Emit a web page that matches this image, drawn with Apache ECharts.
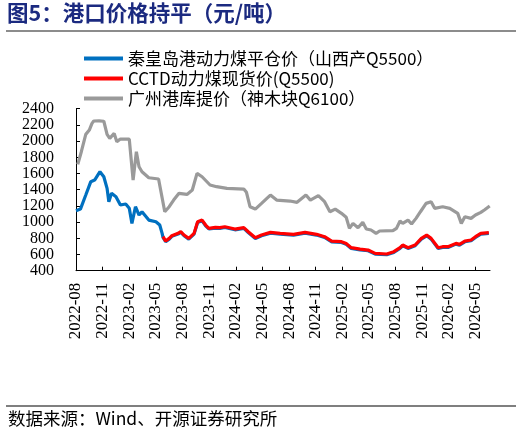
<!DOCTYPE html>
<html><head><meta charset="utf-8">
<script src="https://cdn.jsdelivr.net/npm/echarts@6/dist/echarts.min.js"></script>
<style>html,body{margin:0;padding:0;background:#fff;}#c{width:522px;height:436px;}</style>
</head><body><div id="c"></div>
<script>
const titleText = '图5：港口价格持平（元/吨）';
const sourceText = '数据来源：Wind、开源证券研究所';
const seriesNames = ['秦皇岛港动力煤平仓价（山西产Q5500）', 'CCTD动力煤现货价(Q5500)', '广州港库提价（神木块Q6100）'];
const yTicks = [400, 2400, 200];
const xStartMonth = '2022-08';
const xEndDate = '2026-06-20';

const blueDates = ['2022-08-01','2022-08-16','2022-09-04','2022-09-21','2022-10-04','2022-10-22','2022-11-05','2022-11-16','2022-11-22','2022-12-01','2022-12-16','2023-01-01','2023-01-19','2023-02-01','2023-02-10','2023-02-22','2023-03-04','2023-03-14','2023-04-07','2023-05-01','2023-05-14','2023-05-22',
'2023-05-25','2023-06-04','2023-06-16','2023-06-25','2023-07-16','2023-07-25','2023-08-06','2023-08-22','2023-09-10','2023-09-22','2023-10-07','2023-10-19','2023-10-30','2023-11-22','2023-12-07','2023-12-24','2024-01-28','2024-02-28','2024-03-13','2024-04-07','2024-04-28','2024-05-28','2024-07-01','2024-08-16','2024-09-25','2024-11-04','2024-12-01','2024-12-25','2025-01-28','2025-02-14','2025-03-01','2025-04-01','2025-04-28','2025-05-22','2025-07-01','2025-07-25','2025-08-16','2025-08-25','2025-09-13','2025-10-07','2025-10-28','2025-11-16','2025-12-01','2025-12-25','2026-01-10','2026-01-28','2026-02-25','2026-03-07','2026-03-25','2026-04-16','2026-05-01','2026-05-19','2026-06-16'];
const blueValues = [1140,1161,1334,1499,1519,1622,1560,1416,1252,1355,1313,1211,1223,1170,984,1190,1087,1128,1025,1005,964,861,
812,758,790,824,852,872,832,790,852,995,1016,955,915,926,922,934,905,922,872,798,831,864,852,840,864,840,811,757,749,727,675,658,646,605,597,626,675,708,675,708,790,831,790,675,687,687,728,716,757,770,811,852,860];

const redDates = ['2023-05-25','2023-06-04','2023-06-16','2023-06-25','2023-07-16','2023-07-25','2023-08-06','2023-08-22','2023-09-10','2023-09-22','2023-10-07','2023-10-19','2023-10-30','2023-11-22','2023-12-07','2023-12-24','2024-01-28','2024-02-28','2024-03-13','2024-04-07','2024-04-28','2024-05-28','2024-07-01','2024-08-16','2024-09-25','2024-11-04','2024-12-01','2024-12-25','2025-01-28','2025-02-14','2025-03-01','2025-04-01','2025-04-28','2025-05-22','2025-07-01','2025-07-25','2025-08-16','2025-08-25','2025-09-13','2025-10-07','2025-10-28','2025-11-16','2025-12-01','2025-12-25','2026-01-10','2026-01-28','2026-02-25','2026-03-07','2026-03-25','2026-04-16','2026-05-01','2026-05-19','2026-06-16'];
const redValues = [820,766,799,832,861,881,840,799,861,1005,1025,964,923,935,931,943,914,931,881,807,840,873,861,849,873,849,820,766,758,735,684,667,655,614,606,635,684,717,684,717,799,840,799,684,696,696,737,725,766,779,820,861,869];

const grayDates = ['2022-08-07','2022-08-19','2022-09-04','2022-09-16','2022-09-25','2022-10-01','2022-10-19','2022-11-05','2022-11-16','2022-11-25','2022-12-10','2022-12-19','2023-01-01','2023-02-01','2023-02-14','2023-02-25','2023-03-04','2023-03-14','2023-04-07','2023-05-10','2023-06-01','2023-06-16','2023-07-01','2023-07-19','2023-08-16','2023-09-04','2023-09-20','2023-10-07','2023-11-04','2023-11-26','2024-01-01','2024-02-28','2024-03-07','2024-03-19','2024-04-07','2024-04-28','2024-05-16','2024-05-28','2024-06-19','2024-08-04','2024-08-28','2024-09-28','2024-10-13','2024-11-10','2024-12-01','2024-12-19','2025-01-07','2025-01-28','2025-02-14','2025-02-25','2025-03-07','2025-03-24','2025-04-10','2025-04-22','2025-05-08','2025-05-25','2025-06-07','2025-07-22','2025-08-04','2025-08-16','2025-08-25','2025-09-13','2025-09-25','2025-10-10','2025-10-25','2025-11-14','2025-12-01','2025-12-13','2026-01-10','2026-02-04','2026-03-01','2026-03-13','2026-03-25','2026-04-16','2026-05-01','2026-05-19','2026-06-01','2026-06-19'];
const grayValues = [1713,1869,2083,2136,2219,2248,2250,2245,2083,2034,2095,1993,2025,2025,1519,1869,1684,1622,1548,1532,1128,1190,1272,1355,1342,1396,1602,1560,1458,1437,1416,1408,1367,1190,1161,1231,1293,1334,1272,1260,1244,1334,1272,1326,1252,1128,1161,1108,1060,923,984,931,997,915,902,861,890,894,923,1013,984,1025,976,1046,1128,1231,1252,1170,1190,1170,1108,984,1066,1046,1087,1120,1149,1198];

const sy = +xStartMonth.slice(0,4), sm = +xStartMonth.slice(5,7);
function toM(d){const p=d.split('-');return (+p[0]-sy)*12+(+p[1]-sm)+(+p[2]-1)/30;}
function fmt(v){const t=Math.round(v);const tot=sm-1+t;const y=sy+Math.floor(tot/12);const m=tot%12+1;return y+'-'+(m<10?'0':'')+m;}
function pairs(ds,vs){return ds.map((d,i)=>[toM(d),vs[i]]);}

const SERIF = '"Liberation Serif", "Times New Roman", serif';
const chart = echarts.init(document.getElementById('c'));
const lineStyle = (c)=>({width:3.2,color:c});
chart.setOption({
  animation:false,
  backgroundColor:'#fff',
  grid:{left:76,right:32,top:108.7,bottom:165.3,containLabel:false},
  legend:{
    orient:'vertical',left:79,top:45,itemWidth:39,itemHeight:4,itemGap:3,icon:'rect',
    textStyle:{fontFamily:'Noto Sans CJK SC',fontSize:17,color:'#000'},
    data:seriesNames
  },
  xAxis:{
    type:'value',min:0,max:toM(xEndDate),interval:3,
    axisLine:{lineStyle:{color:'#000',width:1}},
    axisTick:{inside:true,length:4,lineStyle:{color:'#000'}},
    splitLine:{show:false},
    axisLabel:{rotate:90,margin:12,fontFamily:SERIF,fontSize:17,color:'#000',hideOverlap:false,
      formatter:(v)=>Math.abs(v/3-Math.round(v/3))<1e-6?fmt(v):'',showMaxLabel:false}
  },
  yAxis:{
    type:'value',min:yTicks[0],max:yTicks[1],interval:yTicks[2],
    axisLine:{show:true,lineStyle:{color:'#000',width:1}},
    axisTick:{show:true,inside:true,length:4,lineStyle:{color:'#000'}},
    splitLine:{show:false},
    axisLabel:{margin:22,color:'#000',fontFamily:SERIF,fontSize:16,lineHeight:12,
      showMinLabel:true,showMaxLabel:true,hideOverlap:false,textMargin:[0,0],minMargin:0,
      formatter:(v)=>String(v)}
  },
  series:[
    {name:seriesNames[0],type:'line',showSymbol:false,data:pairs(blueDates,blueValues),lineStyle:lineStyle('#0070C0'),itemStyle:{color:'#0070C0'}},
    {name:seriesNames[1],type:'line',showSymbol:false,data:pairs(redDates,redValues),lineStyle:lineStyle('#FF0000'),itemStyle:{color:'#FF0000'}},
    {name:seriesNames[2],type:'line',showSymbol:false,data:pairs(grayDates,grayValues),lineStyle:lineStyle('#9A9A9A'),itemStyle:{color:'#9A9A9A'}}
  ],
  graphic:[
    {type:'text',left:7,top:2,style:{text:titleText,font:'bold 21.5px "Noto Sans CJK SC"',fill:'#1B2A80'}},
    {type:'rect',shape:{x:6,y:30,width:510,height:2},style:{fill:'#8C8C8C'}},
    {type:'rect',shape:{x:6,y:405.5,width:510,height:1},style:{fill:'#000'}},
    {type:'text',left:8,top:410,style:{text:sourceText,font:'17.5px "Noto Sans CJK SC"',fill:'#000'}}
  ]
});
</script></body></html>
